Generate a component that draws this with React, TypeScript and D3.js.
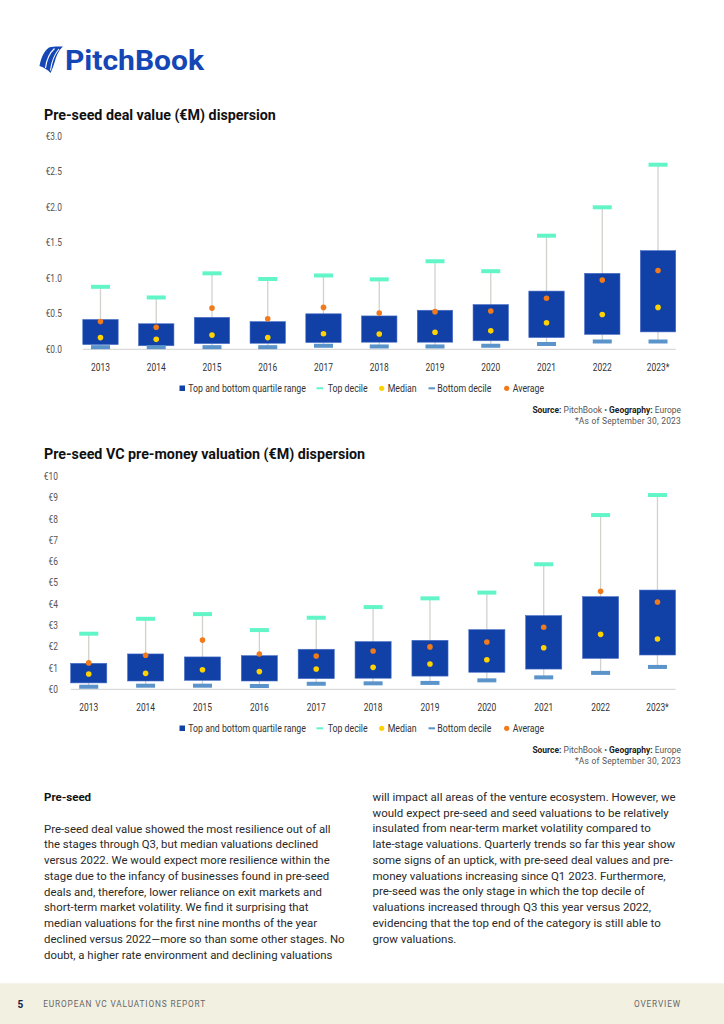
import * as d3 from "d3";
import { useEffect, useRef } from "react";

const YEARS = ["2013", "2014", "2015", "2016", "2017", "2018", "2019", "2020", "2021", "2022", "2023*"];

// Pre-seed deal value (€M)
const DEAL_TOP_DECILE = [0.88, 0.73, 1.07, 0.99, 1.04, 0.985, 1.24, 1.1, 1.6, 2.0, 2.6];
const DEAL_Q3 = [0.42, 0.36, 0.45, 0.39, 0.5, 0.47, 0.55, 0.63, 0.82, 1.07, 1.39];
const DEAL_Q1 = [0.066, 0.05, 0.08, 0.085, 0.095, 0.1, 0.1, 0.12, 0.165, 0.21, 0.245];
const DEAL_MEDIAN = [0.165, 0.14, 0.2, 0.165, 0.22, 0.215, 0.24, 0.26, 0.375, 0.49, 0.59];
const DEAL_AVERAGE = [0.39, 0.31, 0.58, 0.43, 0.59, 0.51, 0.53, 0.54, 0.72, 0.975, 1.11];
const DEAL_BOTTOM_DECILE = [0.03, 0.03, 0.03, 0.03, 0.05, 0.04, 0.04, 0.05, 0.075, 0.11, 0.11];
const DEAL_TICKS = [0, 0.5, 1, 1.5, 2, 2.5, 3];

// Pre-seed pre-money valuation (€M)
const VAL_TOP_DECILE = [2.61, 3.31, 3.53, 2.78, 3.36, 3.86, 4.27, 4.54, 5.87, 8.18, 9.12];
const VAL_Q3 = [1.22, 1.66, 1.52, 1.58, 1.88, 2.24, 2.3, 2.8, 3.46, 4.35, 4.66];
const VAL_Q1 = [0.3, 0.39, 0.42, 0.39, 0.5, 0.52, 0.62, 0.8, 0.95, 1.45, 1.61];
const VAL_MEDIAN = [0.72, 0.75, 0.92, 0.83, 0.95, 1.03, 1.19, 1.39, 1.95, 2.58, 2.36];
const VAL_AVERAGE = [1.24, 1.6, 2.31, 1.66, 1.56, 1.8, 1.99, 2.22, 2.91, 4.6, 4.1];
const VAL_BOTTOM_DECILE = [0.12, 0.17, 0.17, 0.155, 0.26, 0.28, 0.3, 0.42, 0.56, 0.77, 1.05];
const VAL_TICKS = [0, 1, 2, 3, 4, 5, 6, 7, 8, 9, 10];

const LEGEND = [
  { kind: "square", label: "Top and bottom quartile range" },
  { kind: "top", label: "Top decile" },
  { kind: "median", label: "Median" },
  { kind: "bottom", label: "Bottom decile" },
  { kind: "average", label: "Average" },
];

const LEFT_TEXT = [
  "Pre-seed deal value showed the most resilience out of all",
  "the stages through Q3, but median valuations declined",
  "versus 2022. We would expect more resilience within the",
  "stage due to the infancy of businesses found in pre-seed",
  "deals and, therefore, lower reliance on exit markets and",
  "short-term market volatility. We find it surprising that",
  "median valuations for the first nine months of the year",
  "declined versus 2022\u2014more so than some other stages. No",
  "doubt, a higher rate environment and declining valuations",
];
const RIGHT_TEXT = [
  "will impact all areas of the venture ecosystem. However, we",
  "would expect pre-seed and seed valuations to be relatively",
  "insulated from near-term market volatility compared to",
  "late-stage valuations. Quarterly trends so far this year show",
  "some signs of an uptick, with pre-seed deal values and pre-",
  "money valuations increasing since Q1 2023. Furthermore,",
  "pre-seed was the only stage in which the top decile of",
  "valuations increased through Q3 this year versus 2022,",
  "evidencing that the top end of the category is still able to",
  "grow valuations.",
];

const FONT = "Roboto, 'Noto Sans', sans-serif";
const BOX = "#1140a6";
const TOP_C = "#62f5c8";
const BOTTOM_C = "#5a94cb";
const MEDIAN_C = "#ffd200";
const AVG_C = "#f07a1c";

type Sel = d3.Selection<SVGGElement, unknown, null, undefined>;

// condensed text: scale glyphs horizontally around the anchor point
const txt = (
  g: Sel,
  x: number,
  y: number,
  s: string,
  size: number,
  sx: number,
  fill = "#333",
  anchor = "start",
  weight = 400,
) =>
  g
    .append("text")
    .attr("transform", `translate(${x},${y}) scale(${sx},1)`)
    .attr("text-anchor", anchor)
    .attr("fill", fill)
    .style("font-family", FONT)
    .style("font-size", `${size}px`)
    .style("font-weight", weight)
    .text(s);

interface ChartCfg {
  top: number; // title centre on the page
  title: string;
  ticks: number[];
  fmt: (v: number) => string;
  yRange: [number, number];
  xRange: [number, number];
  tickRight: number;
  topDecile: number[];
  q3: number[];
  q1: number[];
  median: number[];
  average: number[];
  bottomDecile: number[];
}

function drawChart(g: Sel, c: ChartCfg) {
  const x = d3.scaleBand<string>().domain(YEARS).range(c.xRange);
  const y = d3
    .scaleLinear()
    .domain([c.ticks[0], c.ticks[c.ticks.length - 1]])
    .range(c.yRange);
  const bw = x.bandwidth() * 0.635;
  const cx = (i: number) => (x(YEARS[i]) ?? 0) + x.bandwidth() / 2;

  txt(g, 44, c.top + 5, c.title, 14.5, 0.985, "#111", "start", 700);

  c.ticks.forEach((t) => {
    txt(g, c.tickRight, y(t) + 3.6, c.fmt(t), 10.5, 0.8, "#555", "end");
  });

  // baseline spans first box edge to last box edge
  g.append("line")
    .attr("x1", cx(0) - bw / 2)
    .attr("x2", cx(YEARS.length - 1) + bw / 2)
    .attr("y1", y(0))
    .attr("y2", y(0))
    .attr("stroke", "#d0d0d0")
    .attr("stroke-width", 1);

  const idx = d3.range(YEARS.length);

  g.selectAll("line.whisker")
    .data(idx)
    .enter()
    .append("line")
    .attr("x1", cx)
    .attr("x2", cx)
    .attr("y1", (i) => y(c.topDecile[i]))
    .attr("y2", (i) => y(c.bottomDecile[i]))
    .attr("stroke", "#d2d2cc")
    .attr("stroke-width", 1.3);

  g.selectAll("rect.box")
    .data(idx)
    .enter()
    .append("rect")
    .attr("x", (i) => cx(i) - bw / 2)
    .attr("width", bw)
    .attr("y", (i) => y(c.q3[i]))
    .attr("height", (i) => y(c.q1[i]) - y(c.q3[i]))
    .attr("fill", BOX)
    .attr("stroke", "#4a6fc8")
    .attr("stroke-width", 0.6);

  const bar = (vals: number[], color: string) =>
    g
      .selectAll(null)
      .data(idx)
      .enter()
      .append("rect")
      .attr("x", (i) => cx(i) - 9.5)
      .attr("width", 19)
      .attr("y", (i) => y(vals[i]) - 2)
      .attr("height", 4)
      .attr("fill", color);
  bar(c.topDecile, TOP_C);
  bar(c.bottomDecile, BOTTOM_C);

  const dot = (vals: number[], color: string) =>
    g
      .selectAll(null)
      .data(idx)
      .enter()
      .append("circle")
      .attr("cx", cx)
      .attr("cy", (i) => y(vals[i]))
      .attr("r", 2.8)
      .attr("fill", color);
  dot(c.median, MEDIAN_C);
  dot(c.average, AVG_C);

  idx.forEach((i) => {
    txt(g, cx(i), y(0) + 21.5, YEARS[i], 10.5, 0.8, "#333", "middle");
  });

  // legend
  const ly = y(0) + 39;
  const legendX = [179.5, 316.5, 381.7, 428.5, 506.7];
  const textX = [188.3, 327.7, 387.7, 437.3, 512.7];
  LEGEND.forEach((item, i) => {
    const lx = legendX[i];
    if (item.kind === "square")
      g.append("rect").attr("x", lx).attr("y", ly - 2.8).attr("width", 5.5).attr("height", 5.5).attr("fill", BOX);
    else if (item.kind === "top" || item.kind === "bottom")
      g.append("rect")
        .attr("x", lx)
        .attr("y", ly - 1)
        .attr("width", 6.5)
        .attr("height", 2)
        .attr("fill", item.kind === "top" ? TOP_C : BOTTOM_C);
    else
      g.append("circle")
        .attr("cx", lx)
        .attr("cy", ly)
        .attr("r", 2.6)
        .attr("fill", item.kind === "median" ? MEDIAN_C : AVG_C);
    txt(g, textX[i], ly + 3.7, item.label, 10.5, 0.835, "#333");
  });

  // source
  const sy = y(0) + 63.5;
  const src = g
    .append("text")
    .attr("transform", `translate(681,${sy}) scale(1.02,1)`)
    .attr("text-anchor", "end")
    .attr("fill", "#555")
    .style("font-family", FONT)
    .style("font-size", "8.3px");
  src.append("tspan").style("font-weight", 700).attr("fill", "#222").text("Source: ");
  src.append("tspan").text("PitchBook  \u2022  ");
  src.append("tspan").style("font-weight", 700).attr("fill", "#222").text("Geography: ");
  src.append("tspan").text("Europe");
  txt(g, 681, sy + 11, "*As of September 30, 2023", 8.3, 1.02, "#555", "end").style("letter-spacing", "0.2px");
}

export default function App() {
  const ref = useRef<SVGSVGElement>(null);

  useEffect(() => {
    const el = ref.current;
    if (!el) return;
    const svg = d3.select(el);
    svg.selectAll("*").remove();
    const g = svg.append("g") as unknown as Sel;

    // logo
    const logo = g.append("g");
    logo
      .append("path")
      .attr(
        "d",
        "M39.5,66 C41,58 44,51 49,47.5 C53,46.2 58,46.3 63,46.5 C59.5,49.5 56.5,55 55,61 C53.5,66 52,70 50.5,73 C48,70 44,67.5 39.5,66 Z",
      )
      .attr("fill", "#1546b6");
    logo
      .append("path")
      .attr("d", "M45.5,68 C46.5,60 49.5,53 54.5,48.5 M50.5,70.5 C51.5,62 54,55 59,49")
      .attr("fill", "none")
      .attr("stroke", "#fff")
      .attr("stroke-width", 1.1);
    logo
      .append("text")
      .attr("x", 65)
      .attr("y", 69.7)
      .attr("textLength", 139)
      .attr("lengthAdjust", "spacingAndGlyphs")
      .attr("fill", "#1546b6")
      .style("font-family", FONT)
      .style("font-size", "28.5px")
      .style("font-weight", 700)
      .text("PitchBook");

    drawChart(g, {
      top: 115,
      title: "Pre-seed deal value (\u20acM) dispersion",
      ticks: DEAL_TICKS,
      fmt: (v) => `\u20ac${v.toFixed(1)}`,
      yRange: [349.3, 136.3],
      xRange: [72.6, 685.9],
      tickRight: 62,
      topDecile: DEAL_TOP_DECILE,
      q3: DEAL_Q3,
      q1: DEAL_Q1,
      median: DEAL_MEDIAN,
      average: DEAL_AVERAGE,
      bottomDecile: DEAL_BOTTOM_DECILE,
    });

    drawChart(g, {
      top: 454,
      title: "Pre-seed VC pre-money valuation (\u20acM) dispersion",
      ticks: VAL_TICKS,
      fmt: (v) => `\u20ac${v}`,
      yRange: [689.3, 476.3],
      xRange: [60.3, 685.9],
      tickRight: 58,
      topDecile: VAL_TOP_DECILE,
      q3: VAL_Q3,
      q1: VAL_Q1,
      median: VAL_MEDIAN,
      average: VAL_AVERAGE,
      bottomDecile: VAL_BOTTOM_DECILE,
    });

    // commentary
    txt(g, 44, 800.8, "Pre-seed", 11.5, 1, "#111", "start", 700);
    LEFT_TEXT.forEach((line, i) => txt(g, 44, 832.6 + i * 15.75, line, 11.5, 0.99, "#2a2a2a"));
    RIGHT_TEXT.forEach((line, i) => txt(g, 372.5, 800.8 + i * 15.75, line, 11.5, 1.0, "#2a2a2a"));

    // footer
    g.append("rect").attr("x", 0).attr("y", 983.3).attr("width", 724).attr("height", 41).attr("fill", "#f2f0e1");
    txt(g, 17.5, 1007.5, "5", 10, 1, "#14214f", "start", 700);
    txt(g, 43.3, 1007, "EUROPEAN VC VALUATIONS REPORT", 8.3, 1, "#666").style("letter-spacing", "0.85px");
    txt(g, 681, 1007, "OVERVIEW", 8.3, 1, "#666", "end").style("letter-spacing", "0.85px");
  }, []);

  return (
    <div style={{ position: "absolute", left: 0, top: 0, width: 724, height: 1024, background: "#fff" }}>
      <svg ref={ref} width={724} height={1024} style={{ display: "block" }} />
    </div>
  );
}
